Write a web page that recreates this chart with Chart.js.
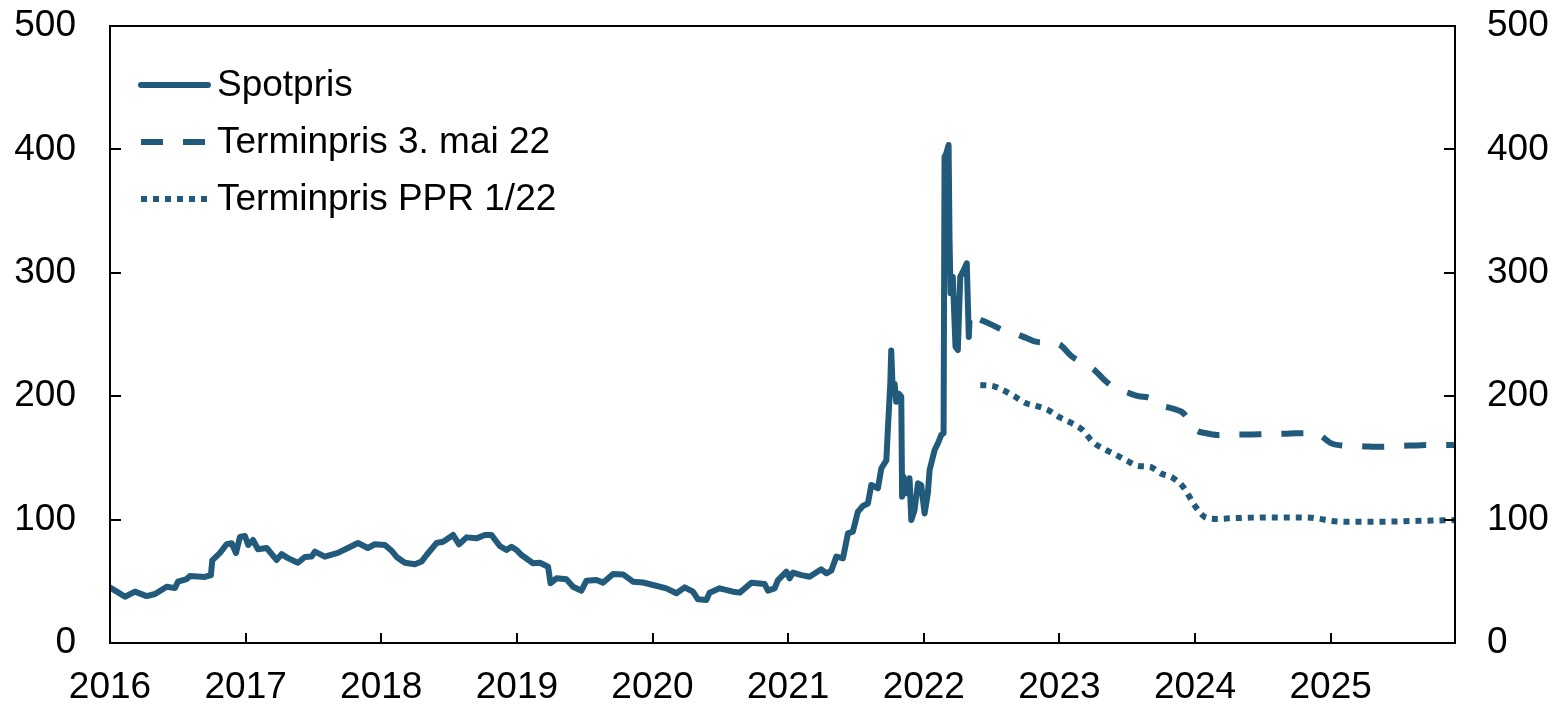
<!DOCTYPE html>
<html>
<head>
<meta charset="utf-8">
<script src="https://cdn.jsdelivr.net/npm/chart.js@4.4.1/dist/chart.umd.min.js"></script>
<style>
  html, body { margin: 0; padding: 0; background: #fff; }
  canvas { display: block; }
</style>
</head>
<body>
<canvas id="chart" width="1554" height="704"></canvas>
<script>
// Spot price (x in decimal years)
const spotYears = [
    2016.000, 2016.044, 2016.111, 2016.184, 2016.270, 2016.332, 2016.418, 2016.479, 2016.501, 2016.565,
    2016.590, 2016.700, 2016.744, 2016.754, 2016.811, 2016.860, 2016.897, 2016.929, 2016.958, 2016.995,
    2017.019, 2017.054, 2017.091, 2017.155, 2017.228, 2017.265, 2017.312, 2017.385, 2017.437, 2017.486,
    2017.511, 2017.584, 2017.680, 2017.769, 2017.828, 2017.901, 2017.953, 2018.027, 2018.076, 2018.113,
    2018.174, 2018.248, 2018.297, 2018.334, 2018.407, 2018.456, 2018.530, 2018.574, 2018.629, 2018.702,
    2018.763, 2018.813, 2018.874, 2018.923, 2018.960, 2018.997, 2019.034, 2019.119, 2019.169, 2019.230,
    2019.248, 2019.292, 2019.365, 2019.414, 2019.476, 2019.513, 2019.587, 2019.635, 2019.709, 2019.783,
    2019.856, 2019.930, 2020.004, 2020.102, 2020.176, 2020.237, 2020.298, 2020.335, 2020.397, 2020.421,
    2020.495, 2020.593, 2020.643, 2020.729, 2020.827, 2020.851, 2020.900, 2020.925, 2020.987, 2021.011,
    2021.035, 2021.097, 2021.158, 2021.244, 2021.282, 2021.318, 2021.355, 2021.404, 2021.441, 2021.477,
    2021.514, 2021.551, 2021.588, 2021.613, 2021.662, 2021.687, 2021.724, 2021.735, 2021.753, 2021.760,
    2021.772, 2021.785, 2021.797, 2021.816, 2021.834, 2021.840, 2021.851, 2021.871, 2021.895, 2021.908,
    2021.932, 2021.957, 2021.981, 2022.006, 2022.030, 2022.043, 2022.080, 2022.104, 2022.129, 2022.146,
    2022.153, 2022.166, 2022.183, 2022.190, 2022.197, 2022.214, 2022.234, 2022.251, 2022.269, 2022.295,
    2022.317, 2022.332, 2022.337
];
const spotValues = [
    45, 42, 37.5, 41.6, 38, 39.7, 45.6, 44.5, 49.7, 51.8,
    54.3, 53.5, 55, 67, 73, 80, 80.8, 73, 86, 86.7,
    79.4, 83.5, 76, 77, 67.3, 72, 68.8, 65, 69.7, 70,
    74, 70, 73, 77.8, 81, 77, 80, 79.4, 74.8, 69.7,
    65, 63.8, 66, 71.3, 81, 82, 87.5, 80, 85.6, 84.8,
    87.5, 87.5, 78.6, 75.4, 78, 75.4, 71.3, 64.6, 65, 61.8,
    48.4, 52.4, 51.6, 45.6, 42.4, 50.5, 51, 48.9, 56, 55.6,
    49.7, 49, 47, 44.3, 40.3, 45.1, 41.6, 35.4, 34.8, 40.8,
    44.3, 41.6, 40.8, 48.9, 47.8, 42.4, 44.3, 51, 57.8, 52.4,
    57, 55, 53.7, 59.7, 56.5, 58.6, 70, 68.6, 88.9, 90.2,
    106.4, 111, 113, 128, 125.4, 141.6, 148, 172.6, 210, 237,
    202, 210, 195.5, 202, 199.6, 118.6, 134.8, 121.3, 133.5, 99.7,
    107.8, 129.4, 128, 105, 121.3, 140.2, 156.4, 161.8, 168.6, 170,
    394, 396.8, 403.6, 326.6, 283.4, 296.8, 240, 237.4, 296.8, 302.3,
    307.7, 248, 260
];

// Forward curves, monthly from June 2022 to December 2025
const forwardStart = 2022 + 5 / 12;
const forwardMay22 = [
    262, 258, 253.5, 251, 247.5, 244, 243.5,
    242, 233, 227, 222, 213, 206, 203, 200, 198.5, 192.5, 190, 186,
    173, 170, 168.6, 169, 169, 169, 169.2, 169.4, 169.6, 170, 170, 168.6,
    162, 160, 159.6, 159.3, 159, 159.2, 159.6, 160, 160.3, 160.4, 160.5, 160.5
];
const forwardPPR = [
    209, 208.5, 205, 200, 194.5, 192, 188.7,
    183, 178.5, 173, 162.5, 157, 152.5, 147.6, 143.5, 142.8, 137.3, 134, 126,
    111, 101.5, 100.5, 101, 101.3, 101.6, 101.7, 101.8, 101.8, 101.8, 101.7, 100.6,
    99, 98.3, 98.2, 98.2, 98.2, 98.3, 98.5, 98.8, 99, 99.2, 99.4, 99.6
];

const seriesNames = ['Spotpris', 'Terminpris 3. mai 22', 'Terminpris PPR 1/22'];
const yTicks = [0, 100, 200, 300, 400, 500];

const colour = '#225a7b';
const font = { family: '"Liberation Sans", Arial, sans-serif', size: 37 };

function toPoints(xs, ys) {
    return ys.map((y, i) => ({ x: xs[i], y: y }));
}
function monthly(values) {
    return values.map((y, i) => ({ x: forwardStart + i / 12, y: y }));
}

// Box, inward tick marks and the legend
const framePlugin = {
    id: 'frame',
    afterDraw(chart) {
        const ctx = chart.ctx;
        const a = chart.chartArea;
        const x = chart.scales.x;
        const y = chart.scales.y;
        ctx.save();
        ctx.strokeStyle = '#000';
        ctx.lineWidth = 2;
        ctx.lineCap = 'butt';
        ctx.setLineDash([]);
        ctx.beginPath();
        yTicks.forEach(v => {
            const py = Math.round(y.getPixelForValue(v));
            ctx.moveTo(a.left, py); ctx.lineTo(a.left + 11, py);
            ctx.moveTo(a.right, py); ctx.lineTo(a.right - 11, py);
        });
        x.ticks.forEach(t => {
            const px = Math.round(x.getPixelForValue(t.value));
            ctx.moveTo(px, a.bottom); ctx.lineTo(px, a.bottom - 10);
        });
        ctx.stroke();
        ctx.strokeRect(a.left, a.top, a.right - a.left, a.bottom - a.top);

        // legend
        ctx.font = font.size + 'px ' + font.family;
        ctx.textBaseline = 'middle';
        ctx.textAlign = 'left';
        ctx.fillStyle = '#000';
        chart.data.datasets.forEach((ds, i) => {
            const ly = 85 + i * 57;
            ctx.strokeStyle = ds.borderColor;
            ctx.lineWidth = ds.borderWidth;
            ctx.lineCap = ds.borderCapStyle;
            ctx.setLineDash(ds.borderDash || []);
            ctx.beginPath();
            ctx.moveTo(a.left + 31, ly);
            ctx.lineTo(a.left + 98, ly);
            ctx.stroke();
            ctx.setLineDash([]);
            ctx.fillText(ds.label, a.left + 107, ly + 1);
        });
        ctx.restore();
    }
};

// fixed box sizes, no extra room for half labels
function fixBox(s, w, h) {
    if (w) s.width = w;
    if (h) s.height = h;
    s.paddingTop = 0;
    s.paddingBottom = 0;
    s.paddingLeft = 0;
    s.paddingRight = 0;
}

const axisY = (side, pad, width) => ({
    position: side,
    min: 0,
    max: 500,
    grid: { display: false },
    border: { display: false },
    ticks: { stepSize: 100, padding: pad, color: '#000', font: font },
    afterFit: s => fixBox(s, width, 0)
});

new Chart(document.getElementById('chart').getContext('2d'), {
    type: 'line',
    data: {
        datasets: [
            {
                label: seriesNames[0],
                data: toPoints(spotYears, spotValues),
                borderColor: colour,
                borderWidth: 6,
                borderCapStyle: 'round',
                borderJoinStyle: 'round'
            },
            {
                label: seriesNames[1],
                data: monthly(forwardMay22),
                borderColor: colour,
                borderWidth: 6,
                borderDash: [22, 20],
                borderCapStyle: 'butt',
                cubicInterpolationMode: 'monotone'
            },
            {
                label: seriesNames[2],
                data: monthly(forwardPPR),
                borderColor: colour,
                borderWidth: 6,
                borderDash: [6, 6],
                borderCapStyle: 'butt',
                cubicInterpolationMode: 'monotone'
            }
        ]
    },
    options: {
        responsive: false,
        animation: false,
        devicePixelRatio: 1,
        layout: { padding: { top: 26, left: 0, right: 0, bottom: 0 } },
        elements: { point: { radius: 0 }, line: { tension: 0 } },
        plugins: { legend: { display: false }, tooltip: { enabled: false } },
        scales: {
            x: {
                type: 'linear',
                min: 2016,
                max: 2025 + 11 / 12,
                grid: { display: false },
                border: { display: false },
                ticks: {
                    stepSize: 1,
                    includeBounds: false,
                    autoSkip: false,
                    maxRotation: 0,
                    padding: 15,
                    color: '#000',
                    font: font,
                    callback: v => String(v)
                },
                afterFit: s => fixBox(s, 0, 61)
            },
            y: axisY('left', 26, 110),
            y2: axisY('right', 24, 99)
        }
    },
    plugins: [framePlugin]
});
</script>
</body>
</html>
